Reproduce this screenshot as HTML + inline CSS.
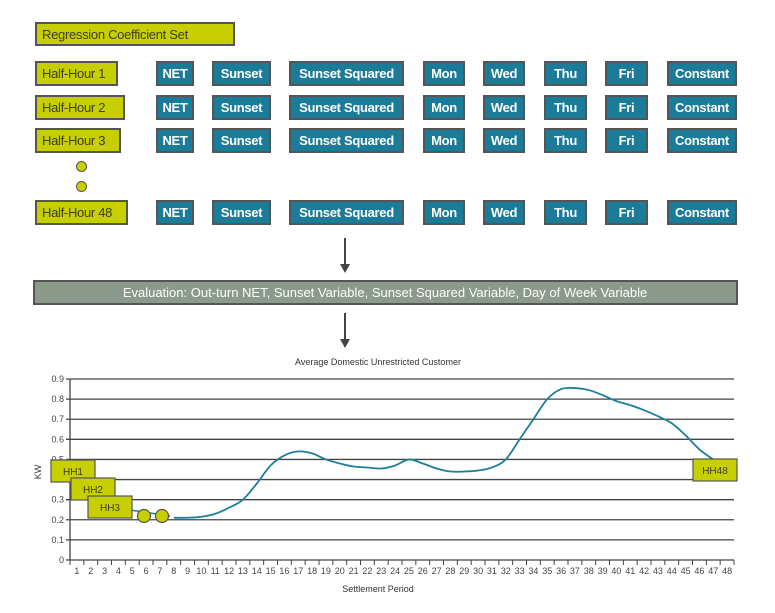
<!DOCTYPE html>
<html><head><meta charset="utf-8"><style>
body{margin:0;background:#fff;width:775px;height:613px;position:relative;overflow:hidden;font-family:"Liberation Sans",sans-serif}
.b{position:absolute;box-sizing:border-box;border:2px solid #555;font-size:13px;display:flex;align-items:center;justify-content:center;white-space:nowrap;letter-spacing:-0.3px}
.y{background:#c8cf00;color:#3d3d1d;justify-content:flex-start;padding-left:5px}
.t{background:#1b7c99;color:#fff;font-weight:bold}
</style></head><body>
<div class="b y" style="left:35px;top:22px;width:200px;height:24px">Regression Coefficient Set</div>
<div id="rows"></div>
<div style="position:absolute;left:76px;top:161px;width:9px;height:9px;border:1.5px solid #555;border-radius:50%;background:#c8cf00"></div>
<div style="position:absolute;left:76px;top:181px;width:9px;height:9px;border:1.5px solid #555;border-radius:50%;background:#c8cf00"></div>
<svg width="775" height="613" style="position:absolute;left:0;top:0">
<g stroke="#444" stroke-width="2" fill="#444">
<line x1="345" y1="238" x2="345" y2="266"/><polygon points="340,264 350,264 345,273" stroke="none"/>
<line x1="345" y1="313" x2="345" y2="341"/><polygon points="340,339 350,339 345,348" stroke="none"/>
</g>
<rect x="34" y="281" width="703" height="23" fill="#8b9a8a" stroke="#555" stroke-width="2"/>
<text x="385" y="297" fill="#fff" font-size="13" text-anchor="middle" font-family="Liberation Sans">Evaluation: Out-turn NET, Sunset Variable, Sunset Squared Variable, Day of Week Variable</text>
<text x="378" y="365" font-size="9" text-anchor="middle" fill="#333">Average Domestic Unrestricted Customer</text>
<g id="chart"></g>
</svg>
<script>
const labels=["Half-Hour 1","Half-Hour 2","Half-Hour 3","Half-Hour 48"];
const rowY=[61,95,128,200];
const hhW=[83,90,86,93];
const cells=[["NET",156,38],["Sunset",212,59],["Sunset Squared",289,115],["Mon",423,42],["Wed",483,42],["Thu",544,43],["Fri",605,43],["Constant",667,70]];
const rows=document.getElementById('rows');
rowY.forEach((y,i)=>{
 const d=document.createElement('div');d.className='b y';
 
 
 d.style.cssText=`left:35px;top:${y}px;width:${hhW[i]}px;height:25px`;d.textContent=labels[i];rows.appendChild(d);
 cells.forEach(c=>{const e=document.createElement('div');e.className='b t';
 
 
 e.style.cssText=`left:${c[1]}px;top:${y}px;width:${c[2]}px;height:25px`;e.textContent=c[0];rows.appendChild(e);});
});
// chart data
const periods=[8,9,10,11,12,13,14,15,16,17,18,19,20,21,22,23,24,25,26,27,28,29,30,31,32,33,34,35,36,37,38,39,40,41,42,43,44,45,46,47];
const kw=[0.21,0.21,0.215,0.23,0.26,0.30,0.38,0.47,0.52,0.54,0.53,0.50,0.48,0.465,0.46,0.455,0.47,0.50,0.48,0.455,0.44,0.44,0.445,0.46,0.50,0.60,0.70,0.80,0.85,0.855,0.845,0.82,0.79,0.77,0.745,0.715,0.68,0.62,0.55,0.50];
const yTicks=[0,0.1,0.2,0.3,0.4,0.5,0.6,0.7,0.8,0.9];
const X0=70,X1=734,Y0=560,Y9=379;
const pw=(X1-X0)/48;
const xs=p=>X0+(p-0.5)*pw, ys=v=>Y0-(v/0.9)*(Y0-Y9);
const g=document.getElementById('chart'),NS='http://www.w3.org/2000/svg';
function mk(t,a,txt){const e=document.createElementNS(NS,t);for(const k in a)e.setAttribute(k,a[k]);if(txt!=null)e.textContent=txt;g.appendChild(e);return e;}
yTicks.forEach(v=>{
 const l=mk('line',{x1:X0-4,x2:X1,y1:ys(v),y2:ys(v),stroke:'#444','stroke-width':1.3});
 
 
 const t=mk('text',{x:X0-6,y:ys(v)+3,'font-size':9,'text-anchor':'end',fill:'#444'},String(v));
 
 
});
mk('line',{x1:X0,x2:X0,y1:Y9,y2:Y0,stroke:'#444','stroke-width':1.3});
for(let i=0;i<=48;i++)mk('line',{x1:X0+i*pw,x2:X0+i*pw,y1:Y0,y2:Y0+5,stroke:'#444','stroke-width':1});
for(let i=1;i<=48;i++){const t=mk('text',{x:xs(i),y:Y0+14,'font-size':9,'text-anchor':'middle',fill:'#444'},String(i));
 
 }
const yt=mk('text',{x:41,y:472,'font-size':9,fill:'#333',transform:'rotate(-90 41 472)','text-anchor':'middle'},'KW');


const xt=mk('text',{x:378,y:592,'font-size':9,fill:'#333','text-anchor':'middle'},'Settlement Period');


const pts=periods.map((p,i)=>[xs(p),ys(kw[i])]);
let d=`M${pts[0][0]},${pts[0][1]}`;
for(let i=0;i<pts.length-1;i++){const p0=pts[Math.max(0,i-1)],p1=pts[i],p2=pts[i+1],p3=pts[Math.min(pts.length-1,i+2)];
d+=` C${p1[0]+(p2[0]-p0[0])/6},${p1[1]+(p2[1]-p0[1])/6} ${p2[0]-(p3[0]-p1[0])/6},${p2[1]-(p3[1]-p1[1])/6} ${p2[0]},${p2[1]}`;}
const line=mk('path',{d:d,fill:'none',stroke:'#1f7f9a','stroke-width':1.8});


mk('line',{x1:130,y1:510,x2:170,y2:516,stroke:'#1f7f9a','stroke-width':1.5});
[144,162].forEach(cx=>{const c=mk('circle',{cx:cx,cy:516,r:6.5,fill:'#c8cf00',stroke:'#555','stroke-width':1.2});
 
 });
[["HH1",51,460],["HH2",71,478],["HH3",88,496],["HH48",693,459]].forEach(h=>{
 const r=mk('rect',{x:h[1],y:h[2],width:44,height:22,fill:'#c8cf00',stroke:'#555','stroke-width':1.2});
 
 
 mk('text',{x:h[1]+22,y:h[2]+15,'font-size':10,'text-anchor':'middle',fill:'#3d3d1d'},h[0]);
});
</script>
</body></html>
